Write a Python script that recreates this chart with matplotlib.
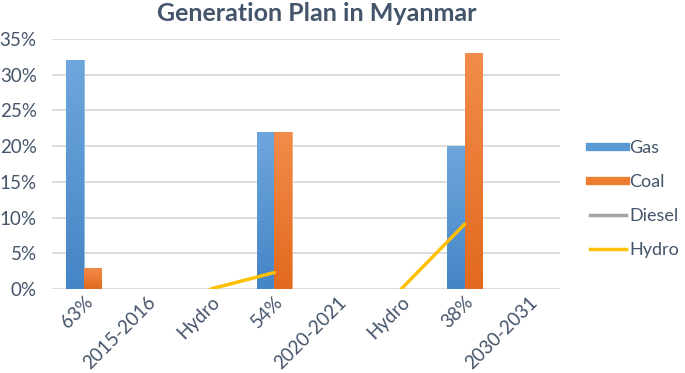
import numpy as np
import matplotlib
matplotlib.use("Agg")
import matplotlib.pyplot as plt
from matplotlib.lines import Line2D
from matplotlib.colors import LinearSegmentedColormap

categories = ["63%", "2015-2016", "Hydro", "54%", "2020-2021", "Hydro", "38%", "2030-2031"]
gas = [32, 0, 0, 22, 0, 0, 20, 0]
coal = [3, 0, 0, 22, 0, 0, 33, 0]
diesel = [np.nan] * 8
hydro = [np.nan, np.nan, 0, 2.3, np.nan, 0, 9.1, np.nan]

TEXT = "#44546A"
GAS_C = "#5B9BD5"
COAL_C = "#ED7D31"
DIESEL_C = "#A5A5A5"
HYDRO_C = "#FFC000"


def shade(ax, bars, top, bottom):
    # vertical gradient inside each bar, like the office chart fill
    cmap = LinearSegmentedColormap.from_list("g", [bottom, top])
    grad = np.linspace(0, 1, 256).reshape(-1, 1)
    for b in bars:
        if b.get_height() <= 0:
            continue
        x0, y0 = b.get_x(), b.get_y()
        im = ax.imshow(grad, cmap=cmap, origin="lower", aspect="auto",
                       extent=[x0, x0 + b.get_width(), y0, y0 + b.get_height()],
                       zorder=2.1)
        im.set_clip_path(b)


plt.rcParams["font.family"] = ["Lato", "DejaVu Sans"]

fig = plt.figure(figsize=(6.85, 3.73), dpi=100)
ax = fig.add_axes([0.0759, 0.2252, 0.7416, 0.6702])

x = np.arange(len(categories))
w = 0.275
gb = ax.bar(x - w / 2, np.array(gas) / 100, w, color=GAS_C, edgecolor="#8DBBE4",
            linewidth=0.6, zorder=2)
cb = ax.bar(x + w / 2, np.array(coal) / 100, w, color=COAL_C, edgecolor="#F4A877",
            linewidth=0.6, zorder=2)
shade(ax, gb, "#6EA7DC", "#4584C6")
shade(ax, cb, "#F28C4A", "#E2691F")
ax.plot(x, np.array(diesel) / 100, color=DIESEL_C, lw=2.5, zorder=3)
ax.plot(x, np.array(hydro) / 100, color=HYDRO_C, lw=2.5,
        solid_capstyle="round", zorder=3)

ax.set_xlim(-0.5, len(categories) - 0.5)
ax.set_ylim(0, 0.35)
ax.set_yticks(np.arange(0, 0.351, 0.05))
ax.set_yticklabels([f"{int(round(v * 100))}%" for v in np.arange(0, 0.351, 0.05)])
ax.yaxis.grid(True, color="#D9D9D9", lw=1.3, zorder=0)
ax.set_axisbelow(True)
for s in ax.spines.values():
    s.set_visible(False)
ax.tick_params(axis="y", length=0, colors=TEXT, labelsize=13.5, pad=11)
ax.set_xticks(x)
ax.set_xticklabels(categories, rotation=45, ha="right", rotation_mode="anchor")
ax.tick_params(axis="x", length=0, colors=TEXT, labelsize=13.5, pad=3)

fig.text(0.462, 0.963, "Generation Plan in Myanmar", ha="center", va="center",
         fontsize=18, fontweight="bold", color=TEXT)

handles = [
    Line2D([0], [0], color=GAS_C, lw=6),
    Line2D([0], [0], color=COAL_C, lw=6),
    Line2D([0], [0], color=DIESEL_C, lw=2.5),
    Line2D([0], [0], color=HYDRO_C, lw=2.5),
]
leg = fig.legend(handles, ["Gas", "Coal", "Diesel", "Hydro"], loc="center left",
                 bbox_to_anchor=(0.861, 0.466), frameon=False, fontsize=13,
                 handlelength=2.0, handletextpad=0.2, labelspacing=1.0,
                 borderpad=0, borderaxespad=0)
for t in leg.get_texts():
    t.set_color(TEXT)

fig.savefig("out.png", dpi=100)
